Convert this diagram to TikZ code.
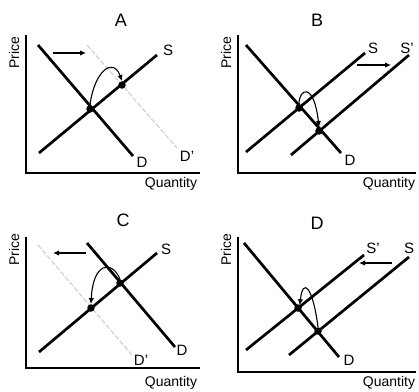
\documentclass[tikz,border=0pt]{standalone}
\usepackage{fontspec}
\setmainfont{Liberation Sans}
\usetikzlibrary{arrows.meta}
\begin{document}
\begin{tikzpicture}[x=1pt,y=-1pt,
  curve/.style={line width=2.7pt},
  axis/.style={line width=1.4pt},
  shifted/.style={line width=1pt, gray!40, dash pattern=on 5pt off 2pt},
  shiftarrow/.style={line width=1.4pt,-{Latex[length=6pt,width=5.5pt]}},
  movearrow/.style={line width=1.1pt,-{Latex[length=6pt,width=5.5pt]}},
  dot/.style={circle,fill=black,inner sep=0pt,minimum size=7.5pt},
  lbl/.style={font=\fontsize{15}{17}\selectfont,inner sep=0pt},
  ttl/.style={font=\fontsize{18}{20}\selectfont,inner sep=0pt},
  axlbl/.style={font=\fontsize{14}{16}\selectfont,inner sep=0pt}]
\useasboundingbox (0,0) rectangle (419,391);
\fill[white] (0,0) rectangle (419,391);

% ---------------- Panel A ----------------
\node[ttl] (tA) at (121,20) {A};
\coordinate (aO) at (26,173);
\coordinate (aY) at (26,35);
\coordinate (aX) at (200,173);
\draw[axis] (aY) -- (aO) -- (aX);
\node[axlbl,rotate=90] (pA) at (14,53) {Price};
\node[axlbl] (qA) at (171,184) {Quantity};
\coordinate (aD1) at (38,45); \coordinate (aD2) at (133,156);
\coordinate (aS1) at (39,153); \coordinate (aS2) at (157,55);
\coordinate (aDp1) at (87,45); \coordinate (aDp2) at (177,148);
\draw[shifted] (aDp1) -- (aDp2);
\draw[curve] (aD1) -- (aD2);
\draw[curve] (aS1) -- (aS2);
\node[lbl] (aSl) at (168,50) {S};
\node[lbl] (aDl) at (142,162) {D};
\node[lbl] (aDpl) at (187,156) {D'};
\node[dot] (aE1) at (90,109) {};
\node[dot] (aE2) at (122,85) {};
\coordinate (aA1) at (53,53); \coordinate (aA2) at (86,53);
\draw[shiftarrow] (aA1) -- (aA2);
\draw[movearrow] (aE1.north) .. controls (94,72) and (113,56) .. (aE2.north);

% ---------------- Panel B ----------------
\node[ttl] (tB) at (317,20) {B};
\coordinate (bO) at (238,173);
\coordinate (bY) at (238,35);
\coordinate (bX) at (416,173);
\draw[axis] (bY) -- (bO) -- (bX);
\node[axlbl,rotate=90] (pB) at (226,53) {Price};
\node[axlbl] (qB) at (389,184) {Quantity};
\coordinate (bD1) at (246,45); \coordinate (bD2) at (341,153);
\coordinate (bS1) at (246,152); \coordinate (bS2) at (365,53);
\coordinate (bSp1) at (291,155); \coordinate (bSp2) at (409,55);
\draw[curve] (bD1) -- (bD2);
\draw[curve] (bS1) -- (bS2);
\draw[curve] (bSp1) -- (bSp2);
\node[lbl] (bSl) at (373,48) {S};
\node[lbl] (bSpl) at (407,48) {S'};
\node[lbl] (bDl) at (350,160) {D};
\node[dot] (bE1) at (299,108) {};
\node[dot] (bE2) at (319,131) {};
\coordinate (bA1) at (357,65); \coordinate (bA2) at (391,65);
\draw[shiftarrow] (bA1) -- (bA2);
\draw[movearrow] (bE1.north) .. controls (299,88) and (314,82) .. (bE2.north);

% ---------------- Panel C ----------------
\node[ttl] (tC) at (123,220) {C};
\coordinate (cO) at (26,368);
\coordinate (cY) at (26,237);
\coordinate (cX) at (200,368);
\draw[axis] (cY) -- (cO) -- (cX);
\node[axlbl,rotate=90] (pC) at (14,250) {Price};
\node[axlbl] (qC) at (171,383) {Quantity};
\coordinate (cD1) at (87,243); \coordinate (cD2) at (175,347);
\coordinate (cS1) at (39,352); \coordinate (cS2) at (157,253);
\coordinate (cDp1) at (38,245); \coordinate (cDp2) at (132,355);
\draw[shifted] (cDp1) -- (cDp2);
\draw[curve] (cD1) -- (cD2);
\draw[curve] (cS1) -- (cS2);
\node[lbl] (cSl) at (166,249) {S};
\node[lbl] (cDl) at (182,350) {D};
\node[lbl] (cDpl) at (141,360) {D'};
\node[dot] (cE1) at (120,283) {};
\node[dot] (cE2) at (91,308) {};
\coordinate (cA1) at (86,253); \coordinate (cA2) at (53,253);
\draw[shiftarrow] (cA1) -- (cA2);
\draw[movearrow] (cE1.north) .. controls (112,260) and (93,262) .. (cE2.north);

% ---------------- Panel D ----------------
\node[ttl] (tD) at (317,223) {D};
\coordinate (dO) at (238,372);
\coordinate (dY) at (238,237);
\coordinate (dX) at (416,372);
\draw[axis] (dY) -- (dO) -- (dX);
\node[axlbl,rotate=90] (pD) at (226,250) {Price};
\node[axlbl] (qD) at (389,383) {Quantity};
\coordinate (dD1) at (244,243); \coordinate (dD2) at (339,357);
\coordinate (dSp1) at (246,350); \coordinate (dSp2) at (364,255);
\coordinate (dS1) at (289,355); \coordinate (dS2) at (409,257);
\draw[curve] (dD1) -- (dD2);
\draw[curve] (dSp1) -- (dSp2);
\draw[curve] (dS1) -- (dS2);
\node[lbl] (dSpl) at (373,248) {S'};
\node[lbl] (dSl) at (409,248) {S};
\node[lbl] (dDl) at (349,360) {D};
\node[dot] (dE1) at (298,308) {};
\node[dot] (dE2) at (318,331) {};
\coordinate (dA1) at (392,263); \coordinate (dA2) at (359,263);
\draw[shiftarrow] (dA1) -- (dA2);
\draw[movearrow] (dE2.north) .. controls (313,288) and (303,276) .. ([xshift=-1pt]dE1.north east);
\end{tikzpicture}
\end{document}
